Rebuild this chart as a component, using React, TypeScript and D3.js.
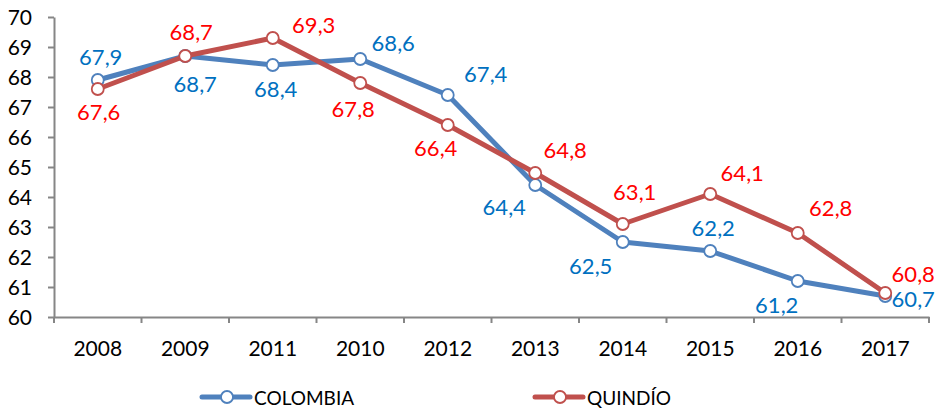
import React, { useEffect, useRef } from "react";
import * as d3 from "d3";

const categories = ["2008", "2009", "2011", "2010", "2012", "2013", "2014", "2015", "2016", "2017"];
const colombia = [67.9, 68.7, 68.4, 68.6, 67.4, 64.4, 62.5, 62.2, 61.2, 60.7];
const quindio = [67.6, 68.7, 69.3, 67.8, 66.4, 64.8, 63.1, 64.1, 62.8, 60.8];
const seriesNames = ["COLOMBIA", "QUINDÍO"];
const yTicks = [60, 61, 62, 63, 64, 65, 66, 67, 68, 69, 70];

// label offsets (label centre relative to point)
const colombiaLabelOffsets: [number, number][] = [
  [3, -24], [10, 27], [3, 23], [33, -17], [38, -22], [-31, 21], [-32, 23], [3, -24], [-21, 23], [28, 2],
];
const quindioLabelOffsets: [number, number][] = [
  [1, 22], [6, -25], [41, -14], [-7, 25], [-12, 22], [30, -24], [12, -33], [32, -22], [33, -26], [28, -20],
];

const W = 935;
const H = 411;
const FONT = "Lato, 'Open Sans', sans-serif";

export default function App() {
  const xAxisRef = useRef<SVGGElement>(null);
  const yAxisRef = useRef<SVGGElement>(null);

  const x = d3.scaleBand<string>().domain(categories).range([54, 929]).padding(0);
  const y = d3.scaleLinear().domain([60, 70]).range([317, 17]);
  const cx = (c: string) => (x(c) as number) + x.bandwidth() / 2;

  useEffect(() => {
    if (xAxisRef.current) {
      const g = d3.select(xAxisRef.current);
      const ax = d3.axisBottom(x).tickSize(6).tickSizeOuter(0).tickFormat(() => "");
      g.call(ax as any);
      g.selectAll(".tick").remove();
      g.select(".domain").attr("stroke", "#868686").attr("stroke-width", 2);
      const bounds = categories.map((c) => x(c) as number).concat([929]);
      g.selectAll("line.bt")
        .data(bounds)
        .join("line")
        .attr("class", "bt")
        .attr("x1", (d) => d)
        .attr("x2", (d) => d)
        .attr("y1", 0)
        .attr("y2", 6)
        .attr("stroke", "#868686")
        .attr("stroke-width", 2);
      g.selectAll("text.cl")
        .data(categories)
        .join("text")
        .attr("class", "cl")
        .attr("x", (d) => cx(d))
        .attr("y", 30)
        .attr("text-anchor", "middle")
        .attr("dominant-baseline", "central")
        .attr("font-family", FONT)
        .attr("font-size", 21)
        .attr("fill", "#000")
        .text((d) => d);
    }
    if (yAxisRef.current) {
      const g = d3.select(yAxisRef.current);
      const ax = d3.axisLeft(y).tickValues(yTicks).tickSize(6).tickSizeOuter(0).tickPadding(16).tickFormat(d3.format("d"));
      g.call(ax as any);
      g.select(".domain").attr("stroke", "#868686").attr("stroke-width", 2);
      g.selectAll(".tick line").attr("stroke", "#868686").attr("stroke-width", 2);
      g.selectAll(".tick text")
        .attr("font-family", FONT)
        .attr("font-size", 21)
        .attr("fill", "#000")
        .attr("dy", "0.35em");
    }
  }, []);

  const line = d3
    .line<number>()
    .x((_, i) => cx(categories[i]))
    .y((d) => y(d));

  const series = [
    { name: seriesNames[0], values: colombia, offsets: colombiaLabelOffsets, stroke: "#4F81BD", label: "#0070C0" },
    { name: seriesNames[1], values: quindio, offsets: quindioLabelOffsets, stroke: "#C0504D", label: "#FF0000" },
  ];

  const fmt = (v: number) => v.toFixed(1).replace(".", ",");

  const legendItems = [
    { x0: 202, ...series[0] },
    { x0: 535, ...series[1] },
  ];

  return (
    <svg width={W} height={H} style={{ position: "absolute", left: 0, top: 0, background: "#fff" }}>
      <g ref={yAxisRef} transform="translate(54,0)" />
      <g ref={xAxisRef} transform="translate(0,317)" />
      {series.map((s) => (
        <g key={s.name}>
          <path d={line(s.values) || ""} fill="none" stroke={s.stroke} strokeWidth={5} strokeLinejoin="round" />
          {s.values.map((v, i) => (
            <circle key={i} cx={cx(categories[i])} cy={y(v)} r={6} fill="#fff" stroke={s.stroke} strokeWidth={1.8} />
          ))}
        </g>
      ))}
      {series.map((s) => (
        <g key={s.name + "-labels"}>
          {s.values.map((v, i) => (
            <text
              key={i}
              x={cx(categories[i]) + s.offsets[i][0]}
              y={y(v) + s.offsets[i][1]}
              textAnchor="middle"
              dominantBaseline="central"
              fontFamily={FONT}
              fontSize={22}
              fill={s.label}
            >
              {fmt(v)}
            </text>
          ))}
        </g>
      ))}
      {legendItems.map((l) => (
        <g key={l.name + "-legend"}>
          <line x1={l.x0} x2={l.x0 + 48} y1={397} y2={397} stroke={l.stroke} strokeWidth={5} strokeLinecap="round" />
          <circle cx={l.x0 + 25} cy={397} r={6} fill="#fff" stroke={l.stroke} strokeWidth={1.8} />
          <text x={l.x0 + 52} y={397} dominantBaseline="central" fontFamily={FONT} fontSize={19} fill="#000">
            {l.name}
          </text>
        </g>
      ))}
    </svg>
  );
}
